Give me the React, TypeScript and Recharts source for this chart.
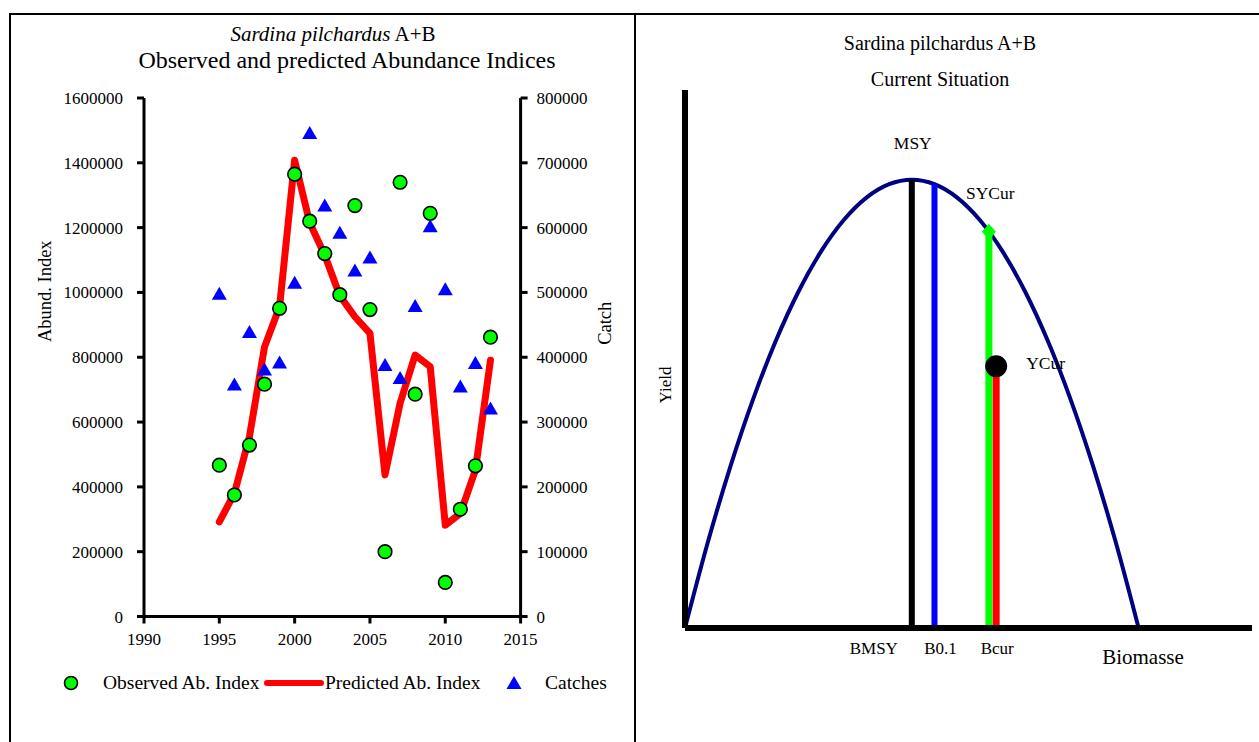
import React from 'react';
import {
  ComposedChart,
  Legend,
  Line,
  ReferenceDot,
  ReferenceLine,
  Scatter,
  XAxis,
  YAxis,
} from 'recharts';

// left chart: abundance indices and catches
const years = [1995, 1996, 1997, 1998, 1999, 2000, 2001, 2002, 2003, 2004, 2005, 2006, 2007, 2008, 2009, 2010, 2011, 2012, 2013];
const observedIndex = [467000, 375000, 529000, 717000, 951000, 1365000, 1220000, 1120000, 993000, 1268000, 947000, 200000, 1340000, 686000, 1244000, 105000, 331000, 465000, 862000];
const predictedIndex = [292000, 380000, 555000, 832000, 956000, 1408000, 1215000, 1115000, 990000, 925000, 874000, 437000, 658000, 807000, 771000, 282000, 318000, 452000, 791000];
const catches = [498000, 358000, 439000, 381000, 392000, 515000, 746000, 634000, 592000, 534000, 554000, 388000, 368000, 479000, 602000, 505000, 355000, 391000, 321000];

const yearTicks = [1990, 1995, 2000, 2005, 2010, 2015];
const indexTicks = [0, 200000, 400000, 600000, 800000, 1000000, 1200000, 1400000, 1600000];
const catchTicks = [0, 100000, 200000, 300000, 400000, 500000, 600000, 700000, 800000];

// right chart: production curve
const biomass = [0, 5, 10, 15, 20, 25, 30, 35, 40, 45, 50, 55, 60, 65, 70, 75, 80, 85, 90, 95, 100];
const yieldCurve = [0, 19, 36, 51, 64, 75, 84, 91, 96, 99, 100, 99, 96, 91, 84, 75, 64, 51, 36, 19, 0];

const bMsy = 50;
const msy = 100;
const b01 = 55;
const y01 = 99;
const bCurSy = 67;
const syCur = 88.4;
const bCurY = 68.6;
const yCur = 58.4;

const FONT = '"Liberation Serif", "Times New Roman", serif';

const abundanceRows = years.map((year, i) => ({
  year,
  observed: observedIndex[i],
  predicted: predictedIndex[i],
  catches: catches[i],
}));

const curveRows = biomass.map((b, i) => ({ b, y: yieldCurve[i] }));

const tickStyle = { fill: '#000', fontSize: 17, fontFamily: FONT };

function GreenDot(props: any) {
  const { cx, cy } = props;
  return <circle cx={cx} cy={cy} r={6.8} fill="#00ff00" stroke="#000" strokeWidth={1.6} />;
}

function BlueTriangle(props: any) {
  const { cx, cy } = props;
  return <polygon points={`${cx},${cy - 7} ${cx + 7.5},${cy + 6} ${cx - 7.5},${cy + 6}`} fill="#0000ff" />;
}

function Diamond(props: any) {
  const { cx, cy } = props;
  return <polygon points={`${cx},${cy - 8} ${cx + 7},${cy} ${cx},${cy + 8} ${cx - 7},${cy}`} fill="#00ff00" />;
}

const legendItems = [
  { name: 'Observed Ab. Index', icon: 'circle', iconX: 71, textX: 103 },
  { name: 'Predicted Ab. Index', icon: 'line', iconX: 294, textX: 325 },
  { name: 'Catches', icon: 'triangle', iconX: 514, textX: 545 },
];

function AbundanceLegend() {
  return (
    <div style={{ position: 'relative', width: 640, height: 30, fontFamily: FONT, fontSize: 19.5, color: '#000' }}>
      {legendItems.map((item) => (
        <React.Fragment key={item.name}>
          <svg style={{ position: 'absolute', left: item.iconX - 30, top: 0 }} width={60} height={30}>
            {item.icon === 'circle' && <circle cx={30} cy={15} r={6.5} fill="#00ff00" stroke="#000" strokeWidth={1.6} />}
            {item.icon === 'line' && <line x1={3} y1={15} x2={57} y2={15} stroke="#ff0000" strokeWidth={6} strokeLinecap="round" />}
            {item.icon === 'triangle' && <polygon points="30,8 37.5,21 22.5,21" fill="#0000ff" />}
          </svg>
          <span style={{ position: 'absolute', left: item.textX, top: 3, whiteSpace: 'nowrap', lineHeight: '24px' }}>{item.name}</span>
        </React.Fragment>
      ))}
    </div>
  );
}

function textAt(x: number, y: number, value: string, size = 17, anchor = 'middle', angle = 0) {
  return (
    <text
      x={x}
      y={y}
      dy="0.35em"
      textAnchor={anchor}
      fontFamily={FONT}
      fontSize={size}
      fill="#000"
      transform={angle ? `rotate(${angle} ${x} ${y})` : undefined}
    >
      {value}
    </text>
  );
}

function AbundanceChart() {
  // the legend box (30px) is taken from the bottom margin by recharts
  return (
    <div style={{ position: 'absolute', left: 0, top: 0 }}>
      <ComposedChart width={640} height={742} data={abundanceRows} margin={{ top: 98, right: 29.4, bottom: 65.5, left: 60 }}>
        <XAxis
          dataKey="year"
          type="number"
          domain={[1990, 2015]}
          ticks={yearTicks}
          height={30}
          stroke="#000"
          strokeWidth={3}
          tickSize={7}
          tickMargin={9}
          tick={tickStyle}
        />
        <YAxis
          yAxisId="left"
          type="number"
          domain={[0, 1600000]}
          ticks={indexTicks}
          width={84}
          stroke="#000"
          strokeWidth={3}
          tickSize={7}
          tickMargin={14}
          tick={tickStyle}
          label={{
            content: ({ viewBox }: any) => textAt(viewBox.x - 15, viewBox.y + viewBox.height / 2 - 66, 'Abund. Index', 18.5, 'middle', -90),
          }}
        />
        <YAxis
          yAxisId="right"
          orientation="right"
          type="number"
          domain={[0, 800000]}
          ticks={catchTicks}
          width={90}
          stroke="#000"
          strokeWidth={3}
          tickSize={7}
          tickMargin={9}
          tick={tickStyle}
          label={{
            content: ({ viewBox }: any) => textAt(viewBox.x + 84, viewBox.y + viewBox.height / 2 - 34, 'Catch', 18.5, 'middle', -90),
          }}
        />
        <Line
          yAxisId="left"
          dataKey="predicted"
          name="Predicted Ab. Index"
          type="linear"
          stroke="#ff0000"
          strokeWidth={7}
          strokeLinecap="round"
          strokeLinejoin="round"
          dot={false}
          isAnimationActive={false}
        />
        <Scatter yAxisId="left" dataKey="observed" name="Observed Ab. Index" shape={GreenDot} isAnimationActive={false} />
        <Scatter yAxisId="right" dataKey="catches" name="Catches" shape={BlueTriangle} isAnimationActive={false} />
        <Legend content={<AbundanceLegend />} wrapperStyle={{ left: 0, top: 668, width: 640, height: 30 }} />
      </ComposedChart>
    </div>
  );
}

function refLabel(text: string, dx: number, dy: number, size = 17, fromTop = false) {
  return {
    content: ({ viewBox }: any) =>
      textAt(viewBox.x + dx, (fromTop ? viewBox.y : viewBox.y + viewBox.height) + dy, text, size),
  };
}

function dotLabel(text: string, dx: number, dy: number) {
  return {
    content: ({ viewBox }: any) =>
      textAt(viewBox.x + viewBox.width / 2 + dx, viewBox.y + viewBox.height / 2 + dy, text, 17.5, 'start'),
  };
}

function ProductionChart() {
  return (
    <div style={{ position: 'absolute', left: 640, top: 0 }}>
      <ComposedChart width={619} height={742} data={curveRows} margin={{ top: 90, right: 7, bottom: 94, left: 25 }}>
        <XAxis
          dataKey="b"
          type="number"
          domain={[0, 125]}
          height={20}
          axisLine={{ stroke: '#000', strokeWidth: 6 }}
          tick={false}
          tickLine={false}
          label={{
            content: ({ viewBox }: any) => textAt(viewBox.x + 458, viewBox.y + 29, 'Biomasse', 21, 'middle'),
          }}
        />
        <YAxis
          type="number"
          domain={[0, 120]}
          width={20}
          axisLine={{ stroke: '#000', strokeWidth: 6 }}
          tick={false}
          tickLine={false}
          label={{
            content: ({ viewBox }: any) => textAt(viewBox.x, viewBox.y + viewBox.height / 2 + 26, 'Yield', 17, 'middle', -90),
          }}
        />
        <Line dataKey="y" type="monotone" stroke="#000080" strokeWidth={4} dot={false} isAnimationActive={false} />
        <ReferenceLine
          segment={[{ x: bMsy, y: 0 }, { x: bMsy, y: msy }]}
          stroke="#000"
          strokeWidth={6}
          label={refLabel('BMSY', -38, 20)}
        />
        <ReferenceLine
          segment={[{ x: bMsy, y: 0 }, { x: bMsy, y: msy }]}
          stroke="none"
          label={refLabel('MSY', 1, -37, 17.5, true)}
        />
        <ReferenceLine
          segment={[{ x: b01, y: 0 }, { x: b01, y: y01 }]}
          stroke="#0000ff"
          strokeWidth={6}
          label={refLabel('B0.1', 6, 20)}
        />
        <ReferenceLine
          segment={[{ x: bCurSy, y: 0 }, { x: bCurSy, y: syCur }]}
          stroke="#00ff00"
          strokeWidth={7}
        />
        <ReferenceLine
          segment={[{ x: bCurY, y: 0 }, { x: bCurY, y: yCur }]}
          stroke="#ff0000"
          strokeWidth={7}
          label={refLabel('Bcur', 1, 20)}
        />
        <ReferenceDot x={bCurSy} y={syCur} r={8} shape={Diamond} label={dotLabel('SYCur', -23, -39)} />
        <ReferenceDot x={bCurY} y={yCur} r={11} fill="#000" stroke="none" label={dotLabel('YCur', 30, -3)} />
      </ComposedChart>
    </div>
  );
}

export default function App() {
  return (
    <div style={{ position: 'absolute', left: 0, top: 0, width: 1259, height: 742, overflow: 'hidden', background: '#fff', fontFamily: FONT }}>
      {/* table frame */}
      <div style={{ position: 'absolute', left: 9, top: 13, width: 1250, height: 2, background: '#000' }} />
      <div style={{ position: 'absolute', left: 9, top: 13, width: 2, height: 729, background: '#000' }} />
      <div style={{ position: 'absolute', left: 634, top: 13, width: 2, height: 729, background: '#000' }} />

      <div style={{ position: 'absolute', left: 133, top: 21, width: 400, textAlign: 'center', fontSize: 21, lineHeight: '26px', color: '#000' }}>
        <i>Sardina pilchardus</i> A+B
      </div>
      <div style={{ position: 'absolute', left: 147, top: 46, width: 400, textAlign: 'center', fontSize: 24, lineHeight: '28px', color: '#000', whiteSpace: 'nowrap' }}>
        <div style={{ marginLeft: -100, width: 600 }}>Observed and predicted Abundance Indices</div>
      </div>

      <div style={{ position: 'absolute', left: 740, top: 25, width: 400, textAlign: 'center', fontSize: 20, lineHeight: '36px', color: '#000' }}>
        <div>Sardina pilchardus A+B</div>
        <div>Current Situation</div>
      </div>

      <AbundanceChart />
      <ProductionChart />
    </div>
  );
}
